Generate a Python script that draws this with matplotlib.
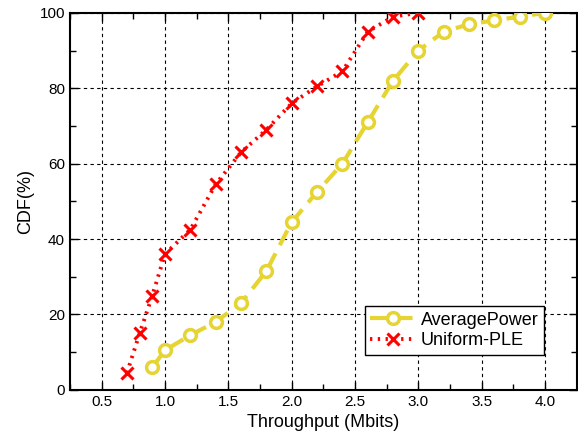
import matplotlib.pyplot as plt
from matplotlib.ticker import MultipleLocator

plt.rcParams['font.family'] = ['Liberation Sans', 'DejaVu Sans']

# throughput (Mbits) and CDF (%) for each scheme
avg_x = [0.9, 1.0, 1.2, 1.4, 1.6, 1.8, 2.0, 2.2, 2.4, 2.6, 2.8, 3.0, 3.2, 3.4, 3.6, 3.8, 4.0]
avg_cdf = [6, 10.5, 14.5, 18, 23, 31.5, 44.5, 52.5, 60, 71, 82, 90, 95, 97, 98, 99, 100]

ple_x = [0.7, 0.8, 0.9, 1.0, 1.2, 1.4, 1.6, 1.8, 2.0, 2.2, 2.4, 2.6, 2.8, 3.0]
ple_cdf = [4.5, 15, 25, 36, 42.5, 54.5, 63, 69, 76, 80.5, 84.5, 95, 99, 100]

xticks = [0.5, 1.0, 1.5, 2.0, 2.5, 3.0, 3.5, 4.0]
yticks = [0, 20, 40, 60, 80, 100]

fig = plt.figure(figsize=(5.78, 4.43), dpi=100)
ax = fig.add_axes([0.121, 0.12, 0.877, 0.851])

ax.plot(avg_x, avg_cdf, color='#E6D433', linestyle=(0, (4, 2.2)), linewidth=3,
        marker='o', markersize=8.5, markerfacecolor='white', markeredgewidth=2.5,
        label='AveragePower', zorder=3)
ax.plot(ple_x, ple_cdf, color='#FF0000', linestyle=(0, (0.6, 1.4)), linewidth=2.8,
        marker='x', markersize=9, markeredgewidth=2.2,
        label='Uniform-PLE', zorder=4)

ax.set_xlim(0.25, 4.25)
ax.set_ylim(0, 100)
ax.set_xticks(xticks)
ax.set_xticklabels([f'{v:.1f}' for v in xticks])
ax.set_yticks(yticks)
ax.xaxis.set_minor_locator(MultipleLocator(0.25))
ax.yaxis.set_minor_locator(MultipleLocator(10))
ax.tick_params(which='both', direction='in', top=True, right=True, labelsize=11)
ax.tick_params(which='major', length=6, width=1)
ax.tick_params(which='minor', length=4, width=1)
ax.grid(True, which='major', color='black', linestyle=(0, (3, 3)), linewidth=0.8)
for s in ax.spines.values():
    s.set_linewidth(1.5)

ax.set_xlabel('Throughput (Mbits)', fontsize=13)
ax.set_ylabel('CDF(%)', fontsize=13)

leg = ax.legend(loc='lower right', bbox_to_anchor=(0.935, 0.093), borderaxespad=0,
                fontsize=13, fancybox=False, edgecolor='black', framealpha=1,
                handlelength=2.5, handletextpad=0.3, borderpad=0.3, labelspacing=0.2)
leg.get_frame().set_linewidth(1)

fig.savefig('out.png', dpi=100)
